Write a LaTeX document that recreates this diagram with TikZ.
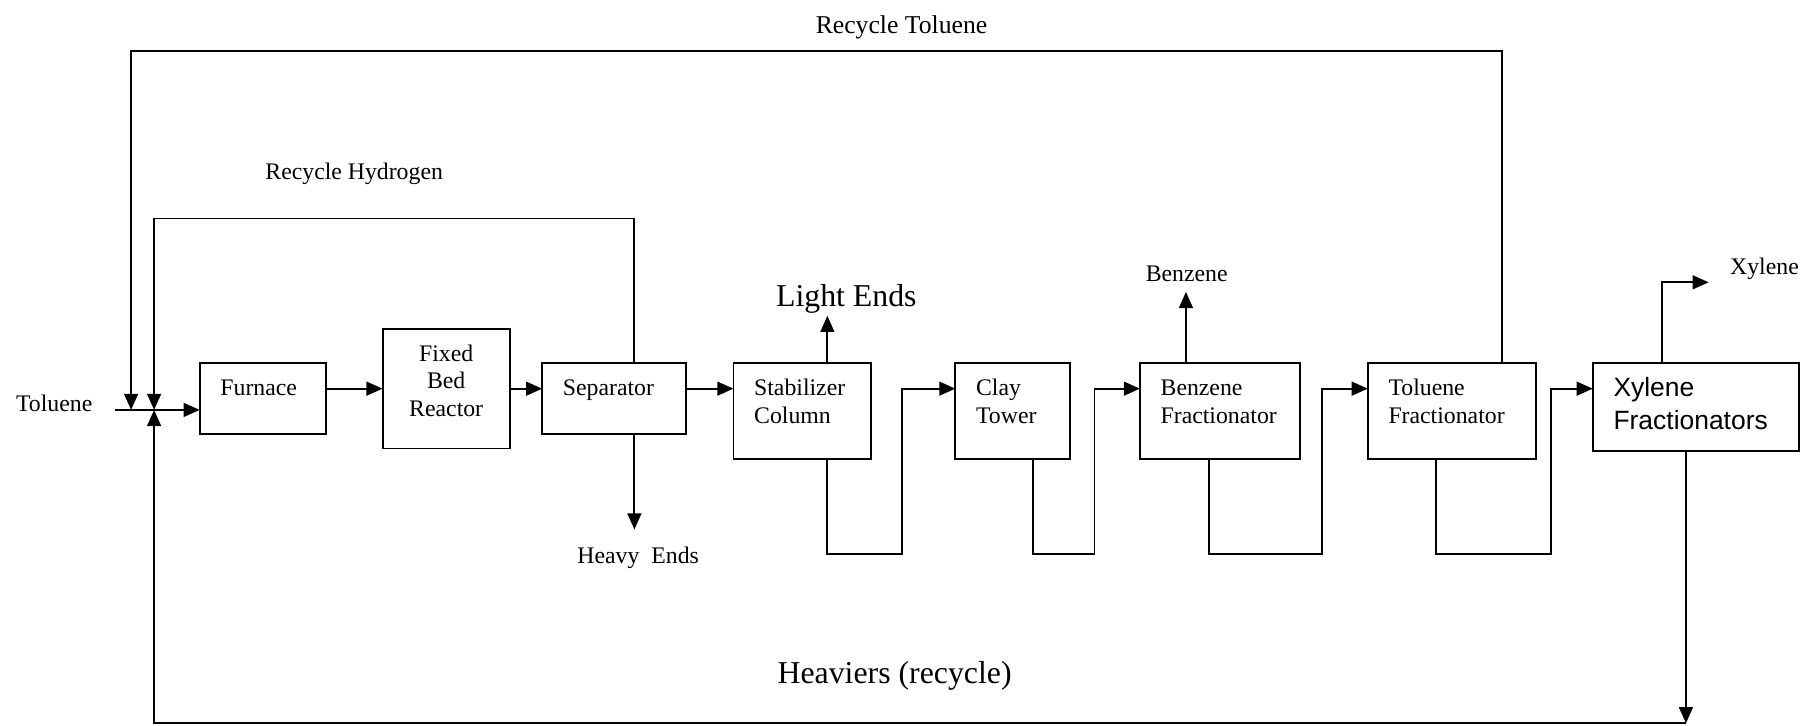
\documentclass[tikz,border=0pt]{standalone}
\usepackage{fontspec}
\setmainfont{Liberation Serif}
\newfontfamily\xylsans{Liberation Sans}
\usepackage{tikz}
\usetikzlibrary{arrows.meta, positioning, calc}

\newcommand{\unitfont}{\fontsize{12.4}{14.5}\selectfont}
\newcommand{\streamfont}{\fontsize{12.4}{14}\selectfont}
\newcommand{\bigstreamfont}{\fontsize{16.6}{19}\selectfont}

\begin{document}
\begin{tikzpicture}[x=0.6pt, y=-0.6pt,
    unit/.style={draw, line width=1pt, outer sep=0pt, anchor=north west, align=left,
                 inner xsep=10.8pt, inner ysep=8.5pt, text height=8.3pt, font=\unitfont},
    stream/.style={inner sep=1pt, font=\streamfont},
    bigstream/.style={inner sep=1pt, font=\bigstreamfont},
    pipe/.style={line width=1pt},
    flow/.style={line width=1pt, -{Triangle[length=8.4pt,width=7.2pt]}}]
\useasboundingbox (0,0) rectangle (1568,631);

% Process units
\node (furnace) [unit, text width=44.3pt, text depth=11.7pt] at (173.7,316) {Furnace};
\node (reactor) [unit, right=29.5pt of furnace.north east, anchor=north west, yshift=18pt,
                 align=center, text width=44.8pt, text depth=37.1pt] {Fixed\\Bed\\Reactor};
\node (separator) [unit, right=16.9pt of reactor.north east, anchor=north west, yshift=-18pt,
                   text width=53.5pt, text depth=11.7pt] {Separator};
\node (stab) [unit, right=24.7pt of separator.north east, anchor=north west,
              text width=50.2pt, text depth=24.8pt] {Stabilizer\\Column};
\node (clay) [unit, right=44pt of stab.north east, anchor=north west,
              text width=38.3pt, text depth=24.8pt] {Clay\\Tower};
\node (benzfrac) [unit, right=36.4pt of clay.north east, anchor=north west,
                  text width=61.9pt, text depth=24.8pt] {Benzene\\Fractionator};
\node (tolfrac) [unit, right=35.4pt of benzfrac.north east, anchor=north west,
                 text width=66pt, text depth=24.8pt] {Toluene\\Fractionator};
\node (xylfrac) [unit, right=29.8pt of tolfrac.north east, anchor=north west,
                 font=\xylsans\fontsize{13.8}{17}\selectfont, text height=8.9pt,
                 text width=86pt, text depth=19.7pt] {Xylene\\Fractionators};

% Stream labels
\node (toluene)  [stream, anchor=base west] at (12,358) {Toluene};
\node (rectol)   [stream, font=\fontsize{13.4}{16}\selectfont, anchor=base] at (784,29) {Recycle Toluene};
\node (rech2)    [stream, anchor=base] at (308,155.7) {Recycle Hydrogen};
\node (light)    [bigstream, anchor=base] at (736,266.7) {Light Ends};
\node (benzene)  [stream, anchor=base] at (1032,245) {Benzene};
\node (xylene)   [stream, anchor=base] at (1534.5,239) {Xylene};
\node (heavy)    [stream, anchor=base] at (555,490) {Heavy\ \ Ends};
\node (heaviers) [bigstream, anchor=base] at (778,594) {Heaviers (recycle)};

% Junctions and taps
\coordinate (feed)   at (100,356.5);
\coordinate (tolmix) at (114,356.5);
\coordinate (h2mix)  at (134,356.5);
\coordinate (toprun) at (0,44);
\coordinate (h2run)  at (0,190);
\coordinate (dip)    at (0,482);
\coordinate (septop) at ([xshift=-27pt]separator.north east);
\coordinate (sepbot) at ([xshift=-27pt]separator.south east);
\coordinate (stabtop) at ([xshift=-22.8pt]stab.north east);
\coordinate (stabbot) at ([xshift=-22.8pt]stab.south east);
\coordinate (claybot) at ([xshift=-19.5pt]clay.south east);
\coordinate (benztop) at ([xshift=24pt]benzfrac.north west);
\coordinate (benzbot) at ([xshift=35.8pt]benzfrac.south west);
\coordinate (toltop)  at ([xshift=-17.4pt]tolfrac.north east);
\coordinate (tolbot)  at ([xshift=35.4pt]tolfrac.south west);
\coordinate (xyltop)  at ([xshift=36pt]xylfrac.north west);
\coordinate (xylbot)  at ([xshift=48.6pt]xylfrac.south west);
\coordinate (xylout)  at (1486,245.5);
\coordinate (bend)    at (xylbot |- 0,629);

% Main train
\draw [flow] (feed) -- (furnace.west |- feed);
\draw [flow] (furnace.east |- reactor.west) -- (reactor.west);
\draw [flow] (reactor.east) -- (separator.west |- reactor.east);
\draw [flow] (separator.east |- reactor.east) -- (stab.west |- reactor.east);
\draw [flow] (stabbot) |- ($(clay.west |- dip)+(-46.5,0)$) |- (clay.west |- reactor.east);
\draw [flow] (claybot) |- ($(benzfrac.west |- dip)+(-39.5,0)$) |- (benzfrac.west |- reactor.east);
\draw [flow] (benzbot) |- ($(tolfrac.west |- dip)+(-40,0)$) |- (tolfrac.west |- reactor.east);
\draw [flow] (tolbot) |- ($(xylfrac.west |- dip)+(-36.6,0)$) |- (xylfrac.west |- reactor.east);

% Products
\draw [flow] (stabtop) -- (stabtop |- light.south);
\draw [flow, shorten >=4pt] (benztop) -- (benztop |- benzene.south);
\draw [flow] (xyltop) |- (xylout);
\draw [flow, shorten >=7.9pt] (sepbot) -- (sepbot |- heavy.north);

% Recycles
\draw [flow] (toltop) |- (toprun -| tolmix) -- (tolmix);
\draw [flow] (septop) |- (h2run -| h2mix) -- (h2mix);
\draw [flow] (xylbot) -- (bend);
\draw [flow] (bend) -| (h2mix);
\end{tikzpicture}
\end{document}
